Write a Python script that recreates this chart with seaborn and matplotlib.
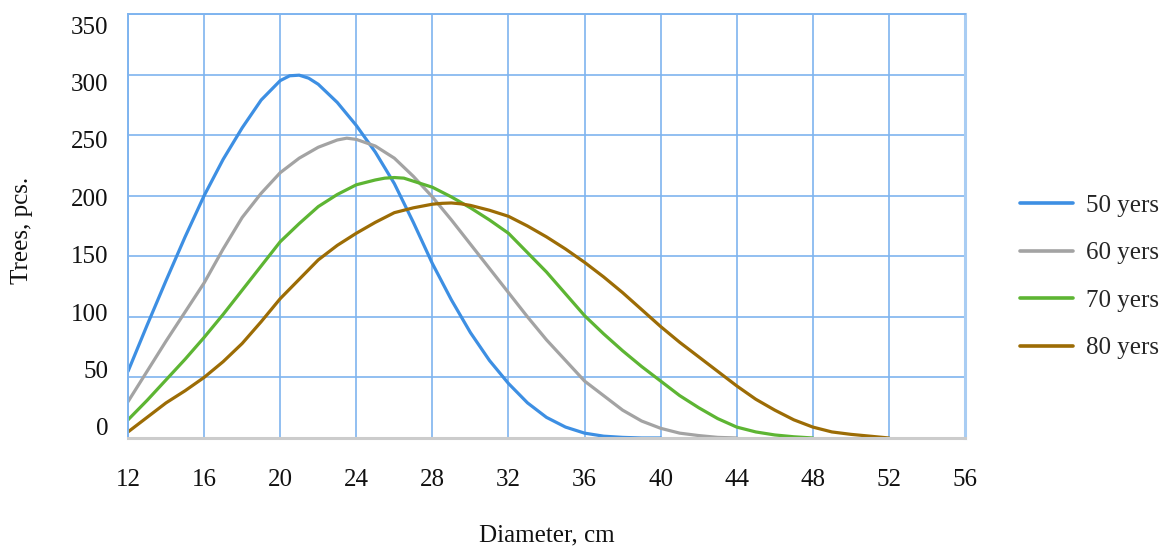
import numpy as np
import pandas as pd
import matplotlib
matplotlib.use('Agg')
import matplotlib.pyplot as plt
import matplotlib.transforms as mtransforms
import seaborn as sns

# values, 1 cm steps (half steps near the peaks)
diam_50 = [12, 13, 14, 15, 16, 17, 18, 19, 20, 20.5, 21, 21.5, 22, 23, 24, 25, 26,
           27, 28, 29, 30, 31, 32, 33, 34, 35, 36, 37, 38, 39, 40]
trees_50 = [55, 93, 130, 166, 200, 230, 256, 279, 295, 299, 299.5, 297, 292, 277, 258,
            236, 210, 178, 144, 114, 87, 64, 45, 29, 17, 9, 4, 1.5, 0.5, 0, 0]
diam_60 = [12, 13, 14, 15, 16, 17, 18, 19, 20, 21, 22, 23, 23.5, 24, 25, 26, 27, 28,
           29, 30, 31, 32, 33, 34, 35, 36, 37, 38, 39, 40, 41, 42, 43, 44]
trees_60 = [30, 55, 80, 104, 128, 156, 182, 202, 219, 231, 240, 246, 247.5, 246.5, 241,
            231, 216, 199, 180, 160, 140, 120, 100, 81, 64, 47, 35, 23, 14, 8, 4, 2, 0.5, 0]
diam_70 = [12, 13, 14, 15, 16, 17, 18, 19, 20, 21, 22, 23, 24, 25, 25.5, 26, 26.5, 27,
           28, 29, 30, 31, 32, 33, 34, 35, 36, 37, 38, 39, 40, 41, 42, 43, 44, 45, 46, 47, 48]
trees_70 = [15, 31, 48, 65, 83, 102, 122, 142, 162, 177, 191, 201, 209, 213, 214.5, 215,
            214.5, 212, 207, 199, 190, 180, 169, 153, 137, 119, 101, 86, 72, 59, 47, 35,
            25, 16, 9, 5, 2.5, 1, 0]
diam_80 = [12, 13, 14, 15, 16, 17, 18, 19, 20, 21, 22, 23, 24, 25, 26, 27, 28, 28.5, 29,
           29.5, 30, 31, 32, 33, 34, 35, 36, 37, 38, 39, 40, 41, 42, 43, 44, 45, 46, 47,
           48, 49, 50, 51, 52]
trees_80 = [5, 17, 29, 39, 50, 63, 78, 96, 115, 131, 147, 159, 169, 178, 186,
            190, 193, 193.7, 194, 193.3, 192, 188, 183, 175, 166, 156, 145, 133, 120, 106,
            92, 79, 67, 55, 43, 32, 23, 15, 9, 5, 3, 1.5, 0]
series = ['50 yers', '60 yers', '70 yers', '80 yers']
colors = ['#3d8fe3', '#a3a3a3', '#5db533', '#9c6c05']

x_ticks = list(range(12, 57, 4))
y_ticks = list(range(0, 351, 50))

df = pd.concat([
    pd.DataFrame({'Diameter': d, 'Trees': t, 'age': s})
    for d, t, s in zip([diam_50, diam_60, diam_70, diam_80],
                       [trees_50, trees_60, trees_70, trees_80], series)
])

sns.set_style('white')
plt.rcParams['font.family'] = ['Liberation Serif', 'DejaVu Serif']

fig = plt.figure(figsize=(11.67, 5.47), dpi=100)
ax = fig.add_axes([0.1097, 0.1993, 0.7172, 0.7751])

grid_c = '#7fb4ef'
sns.lineplot(data=df, x='Diameter', y='Trees', hue='age', palette=colors,
             linewidth=2.3, ax=ax, legend=True)

ax.set_xlim(12, 56)
ax.set_ylim(0, 350)
ax.set_xticks(x_ticks)
ax.set_yticks(y_ticks)
ax.grid(True, color=grid_c, linewidth=1.2)
ax.set_axisbelow(True)
for side in ['left', 'top', 'right']:
    ax.spines[side].set_color(grid_c)
    ax.spines[side].set_linewidth(1.4)
ax.spines['right'].set_color('#a9cdf3')
ax.spines['right'].set_linewidth(2.2)
ax.spines['bottom'].set_color('#cccccc')
ax.spines['bottom'].set_linewidth(2.2)

ax.tick_params(axis='both', length=0, labelsize=18, colors='#111111')
ax.tick_params(axis='x', pad=22)
ax.tick_params(axis='y', pad=14)

# the tick labels in the reference drift a little from their grid lines
for v, lab in zip(y_ticks, ax.get_yticklabels()):
    dy = (11 - 0.0629 * v) / 100.0
    lab.set_transform(lab.get_transform() + mtransforms.ScaledTranslation(0, dy, fig.dpi_scale_trans))

ax.set_xlabel('Diameter, cm', fontsize=18, color='#111111')
ax.set_ylabel('Trees, pcs.', fontsize=18, color='#111111')
ax.xaxis.set_label_coords(0.5006, -0.203)
ax.yaxis.set_label_coords(-0.113, 0.49)

leg = ax.legend(loc='center left', bbox_to_anchor=(1.066, 0.38), frameon=False,
                fontsize=18, handlelength=2.1, handletextpad=0.55,
                labelspacing=1.0, borderpad=0, borderaxespad=0)
for h in leg.get_lines():
    h.set_linewidth(2.6)

fig.savefig('out.png', dpi=100)
